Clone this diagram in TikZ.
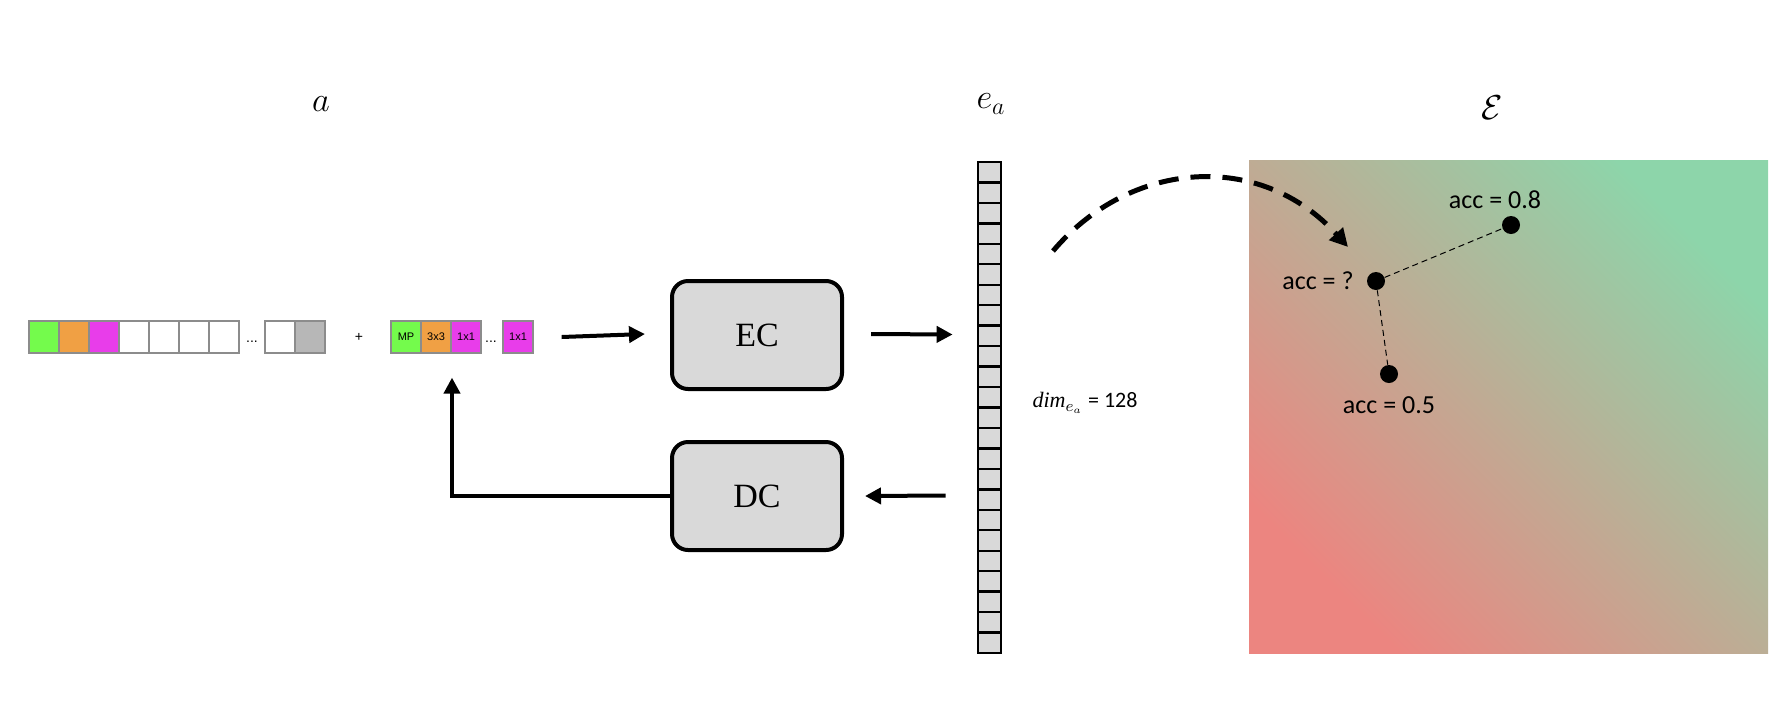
\documentclass[tikz,border=0pt]{standalone}
\usepackage{fontspec}
\setmainfont{Liberation Serif}
\newfontfamily\calfont{Carlito}
\newfontfamily\arialfont{Liberation Sans}
\usetikzlibrary{arrows.meta,positioning,calc}
\definecolor{opgreen}{HTML}{74FB4C}
\definecolor{oporange}{HTML}{F0A044}
\definecolor{oppink}{HTML}{E83DEA}
\definecolor{opgray}{HTML}{B7B7B7}
\definecolor{boxgray}{HTML}{D9D9D9}
\definecolor{spred}{HTML}{EC8580}
\definecolor{spyellow}{HTML}{D2D088}
\definecolor{spgreen}{HTML}{8DD5AA}
\begin{document}
\begin{tikzpicture}[x=0.5pt, y=-0.5pt]
	\tikzstyle{cell} = [rectangle, minimum width=15pt, minimum height=16pt, inner sep=0pt, draw=black!45, line width=0.6pt, font=\arialfont\fontsize{5.5}{6}\selectfont]
	\tikzstyle{coder} = [rectangle, rounded corners=8pt, minimum width=85pt, minimum height=54pt, fill=boxgray, draw=black, line width=2pt, font=\fontsize{17}{20}\selectfont]
	\tikzstyle{veccell} = [rectangle, minimum width=11.5pt, minimum height=10.23pt, inner sep=0pt, fill=boxgray, draw=black, line width=1.2pt]
	\tikzstyle{flow} = [line width=2pt, -{Triangle[length=8pt, width=8pt]}]
	\tikzstyle{acc} = [font=\calfont\fontsize{13}{15}\selectfont]
	\tikzstyle{pt} = [circle, fill=black, inner sep=0pt, minimum size=9pt]
	\useasboundingbox (0,0) rectangle (1770,724);
	% architecture a
	\node at (321,104) {\fontsize{18}{20}\selectfont$a$};
	\node (s1) at (44,337) [cell, fill=opgreen] {};
	\node (s2) at (74,337) [cell, fill=oporange] {};
	\node (s3) at (104,337) [cell, fill=oppink] {};
	\foreach \x in {134,164,194,224,280}
		\node at (\x,337) [cell, fill=white] {};
	\node at (252,342) {\arialfont\fontsize{7}{8}\selectfont...};
	\node (slast) at (310,337) [cell, fill=opgray] {};
	\node at (359,337) {\arialfont\fontsize{7}{8}\selectfont+};
	\node (op1) at (406,337) [cell, fill=opgreen] {MP};
	\node (op2) at (436,337) [cell, fill=oporange] {3x3};
	\node (op3) at (466,337) [cell, fill=oppink] {1x1};
	\node at (491,342) {\arialfont\fontsize{7}{8}\selectfont...};
	\node (op4) at (518,337) [cell, fill=oppink] {1x1};
	% encoder and decoder
	\node (ec) at (757,335) [coder] {EC};
	\node (dc) at (757,496) [coder] {DC};
	% embedding vector
	\node (vec) at (989.5,407.5) [minimum width=11.5pt, minimum height=245.5pt, inner sep=0pt] {};
	\foreach \i in {0,...,23}
		\node at (989.5,{172.2+\i*20.46}) [veccell] {};
	\node at (991,104) {\fontsize{18}{20}\selectfont$e_a$};
	\node at (1085,403) {\calfont\fontsize{11}{13}\selectfont$\mathit{dim}_{e_a}$ = 128};
	\draw[flow] ($(op4.east)+(28,0)$) -- ($(ec.west)+(-25,-1)$);
	\draw[flow] ($(ec.east)+(27,-1)$) -- ($(vec.west)+(-25,-73)$);
	\draw[flow] ($(vec.west)+(-32,88)$) -- ($(dc.east)+(21,0)$);
	\draw[flow] (dc.west) -| ($(op3.south)+(-14,24)$);
	% embedding space
	\shade[shading=axis, bottom color=spred, middle color=spyellow, top color=spgreen, shading angle=-45] (1249,160) rectangle (1768,653);
	\node at (1492,108) {\fontsize{19}{21}\selectfont$\mathcal{E}$};
	\node (pq) at (1376,281) [pt] {};
	\node (p8) at (1511,225) [pt] {};
	\node (p5) at (1389,374) [pt] {};
	\node [acc, left=3pt of pq] {acc = ?};
	\node [acc, above=0pt of p8, xshift=-8pt] {acc = 0.8};
	\node [acc, below=3pt of p5] {acc = 0.5};
	\draw[dashed, line width=0.5pt, dash pattern=on 3pt off 2pt] (pq) -- (p8);
	\draw[dashed, line width=0.5pt, dash pattern=on 3pt off 2pt] (pq) -- (p5);
	\coordinate (arcstart) at (1053,251);
	\draw[line width=2.5pt, dash pattern=on 10pt off 6pt, -{Triangle[length=9pt, width=9pt]}] (arcstart) .. controls (1130,160) and (1260,150) .. ($(pq)+(-28,-34)$);
\end{tikzpicture}
\end{document}
